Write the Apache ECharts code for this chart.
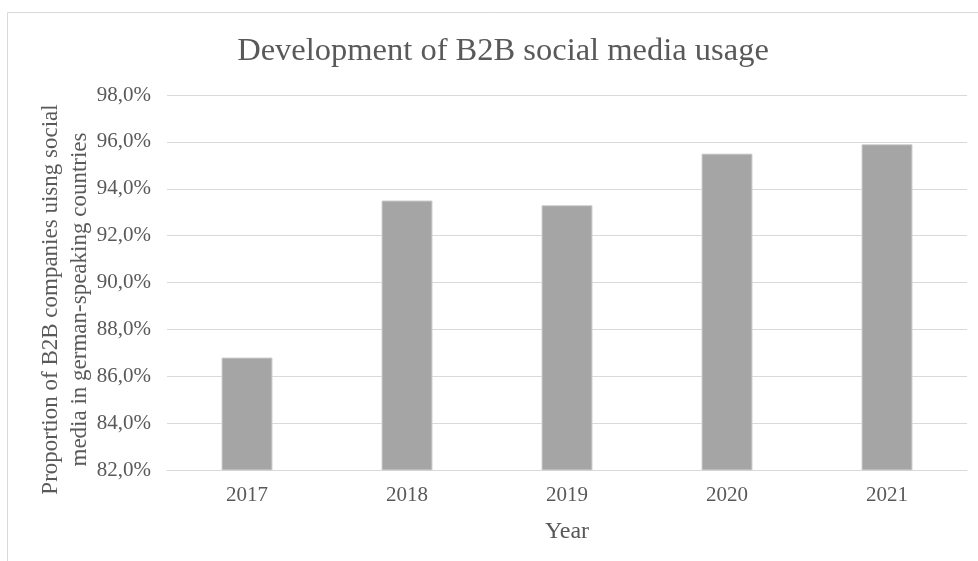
<!DOCTYPE html>
<html>
<head>
<meta charset="utf-8">
<script src="https://cdn.jsdelivr.net/npm/echarts@6/dist/echarts.min.js"></script>
<style>html,body{margin:0;padding:0;background:#fff}#c{width:978px;height:561px}</style>
</head>
<body>
<div id="c"></div>
<script>
const years = ['2017', '2018', '2019', '2020', '2021'];
const shares = [86.8, 93.5, 93.3, 95.5, 95.9];
const yTicks = { min: 82, max: 98, interval: 2 };

const font = "'Liberation Serif', 'Times New Roman', serif";
const chart = echarts.init(document.getElementById('c'));
chart.setOption({
  animation: false,
  backgroundColor: '#fff',
  graphic: [{
    type: 'rect', shape: { x: 7.5, y: 12.5, width: 990, height: 580 },
    style: { fill: 'none', stroke: '#D9D9D9', lineWidth: 1 }, silent: true
  }],
  title: {
    text: 'Development of B2B social media usage',
    left: 498, textAlign: 'center', top: 30,
    textStyle: { fontFamily: font, fontSize: 32.5, fontWeight: 'normal', color: '#595959' }
  },
  grid: { left: 167, right: 11, top: 95, bottom: 91 },
  xAxis: {
    type: 'category', data: years,
    name: 'Year', nameLocation: 'middle', nameGap: 50,
    nameTextStyle: { fontFamily: font, fontSize: 24, color: '#595959' },
    axisTick: { show: false },
    axisLine: { lineStyle: { color: '#D9D9D9', width: 1 } },
    axisLabel: { fontFamily: font, fontSize: 21, color: '#595959', margin: 15 }
  },
  yAxis: {
    type: 'value', min: yTicks.min, max: yTicks.max, interval: yTicks.interval,
    name: 'Proportion of B2B companies uisng social\nmedia in german-speaking countries',
    nameLocation: 'middle', nameGap: 73, nameMoveOverlap: false,
    nameTextStyle: { fontFamily: font, fontSize: 23, color: '#595959', lineHeight: 29, padding: [0, 34, 0, 0] },
    axisLine: { show: false }, axisTick: { show: false },
    splitLine: { lineStyle: { color: '#D9D9D9', width: 1 } },
    axisLabel: {
      fontFamily: font, fontSize: 21, color: '#595959', margin: 16,
      formatter: v => v.toFixed(1).replace('.', ',') + '%'
    }
  },
  series: [{
    type: 'bar', data: shares, barWidth: 51,
    itemStyle: { color: '#A5A5A5', borderColor: '#D0D0D0', borderWidth: 1 }
  }]
});
</script>
</body>
</html>
